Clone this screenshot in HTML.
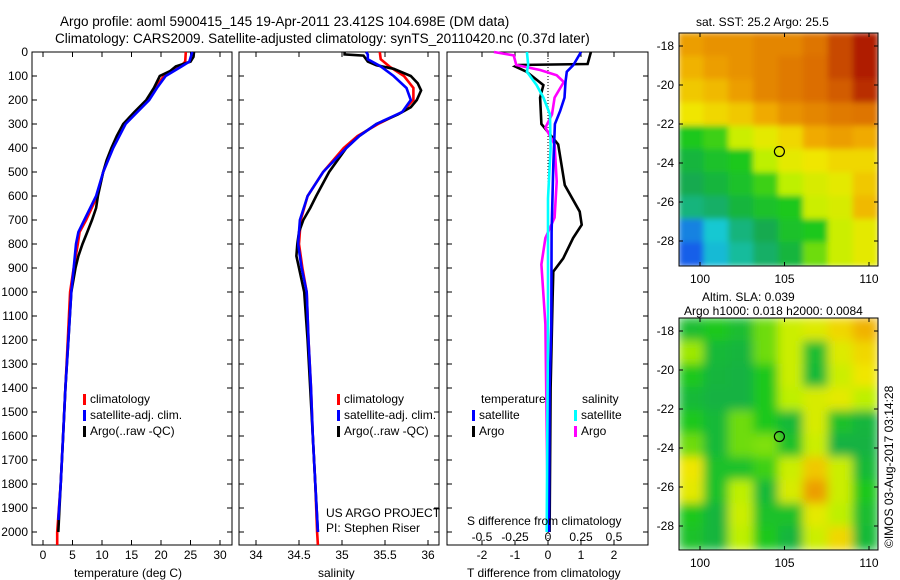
<!DOCTYPE html>
<html><head><meta charset="utf-8"><style>
body{margin:0;background:#fff}
svg{display:block;font-family:"Liberation Sans",sans-serif;font-size:12px}
</style></head><body>
<svg id="s" width="900" height="580" viewBox="0 0 900 580">
<text x="60" y="26" font-size="13.5">Argo profile: aoml 5900415_145 19-Apr-2011 23.412S 104.698E (DM data)</text>
<text x="55" y="43" font-size="13.5">Climatology: CARS2009. Satellite-adjusted climatology: synTS_20110420.nc (0.37d later)</text>
<g id="plots"></g>
<text x="74" y="577" font-size="12">temperature (deg C)</text>
<text x="318" y="577">salinity</text>
<text x="467" y="577">T difference from climatology</text>
<text x="467" y="525">S difference from climatology</text>
<text x="326" y="517">US ARGO PROJECT</text>
<text x="326" y="532">PI: Stephen Riser</text>
<text x="696" y="26">sat. SST: 25.2 Argo: 25.5</text>
<text x="702" y="301">Altim. SLA: 0.039</text>
<text x="684" y="315">Argo h1000: 0.018 h2000: 0.0084</text>
<text transform="translate(893,548) rotate(-90)">©IMOS 03-Aug-2017 03:14:28</text>
</svg>
<script>
// ---- data ----
const depthTick = [0,100,200,300,400,500,600,700,800,900,1000,1100,1200,1300,1400,1500,1600,1700,1800,1900,2000];
const tempTicks = [0,5,10,15,20,25,30];
const salTicks = [34,34.5,35,35.5,36];
const tdTicks = [-2,-1,0,1,2];
const sdTicks = [-0.5,-0.25,0,0.25,0.5];
const sdTickLabels = ["-0.5","-0.25","0","0.25","0.5"];

const tArgoD = [0,20,40,60,80,100,150,200,250,300,350,400,450,500,600,650,700,750,800,850,900,1000,1200,1400,1600,1800,2000];
const tArgoV = [25.6,25.5,25,22.5,21.5,19.8,18.8,17.5,15.5,13.6,12.5,11.6,10.8,10.2,9.3,9,8.3,7.5,6.7,6,5.5,4.8,4.3,3.8,3.4,3.0,2.6];
const tClimD = [0,40,60,100,150,200,250,300,400,500,600,700,750,800,900,1000,1200,1400,1600,1800,2000,2054];
const tClimV = [24.2,24.1,23.3,20.5,19.0,17.8,15.8,13.8,11.8,10.2,9.2,7.3,6.2,5.9,5.2,4.6,4.2,3.8,3.4,3.0,2.4,2.4];
const tSatD = [0,40,60,100,150,200,250,300,400,500,600,700,750,800,900,1000,1200,1400,1600,1800,1950];
const tSatV = [25.3,24.8,23.5,20.8,19.3,18.0,16,14,11.9,10.2,9.0,7.0,6.0,5.6,5.2,4.8,4.3,3.8,3.4,3.0,2.6];

const sArgoD = [0,10,15,40,55,70,100,130,160,200,230,260,300,350,400,500,600,650,700,750,800,850,900,1000,1200,1400,1600,1800,2000];
const sArgoV = [35.03,35.03,35.25,35.3,35.4,35.6,35.8,35.88,35.92,35.87,35.8,35.65,35.4,35.2,35.05,34.85,34.7,34.63,34.55,34.5,34.48,34.47,34.5,34.56,34.6,34.63,34.66,34.69,34.72];
const sClimD = [0,30,60,100,150,200,250,300,350,400,500,600,700,800,900,1000,1200,1400,1600,1800,2000,2054];
const sClimV = [35.44,35.45,35.55,35.72,35.83,35.83,35.7,35.42,35.18,35.02,34.78,34.6,34.52,34.5,34.54,34.59,34.61,34.64,34.66,34.69,34.71,34.72];
const sSatD = [0,10,30,60,100,150,200,250,300,350,400,500,600,700,800,900,1000,1200,1400,1600,1800,2000];
const sSatV = [35.28,35.3,35.3,35.45,35.6,35.75,35.8,35.7,35.4,35.2,35.05,34.78,34.6,34.51,34.49,34.53,34.59,34.61,34.64,34.66,34.69,34.72];

const dtSatD = [0,54,82,125,190,245,300,470,750,1140,1400,2000];
const dtSatV = [1.0,0.77,0.57,0.53,0.5,0.37,0.21,0.16,0.11,0.1,0.05,0.03];
const dtArgoD = [0,50,54,60,82,138,190,300,385,470,555,665,720,775,860,915,1025,1400,2000];
const dtArgoV = [1.3,1.2,-0.9,-1.0,-0.65,-0.14,-0.24,-0.2,0.31,0.41,0.51,0.96,1.02,0.76,0.46,0.16,0.14,0.08,0.05];
const dsSatD = [0,54,82,138,190,260,400,610,1140,2000];
const dsSatV = [-0.16,-0.15,-0.16,-0.086,-0.035,0.015,0.02,0,0,-0.01];
const dsArgoD = [0,14,54,75,97,125,190,260,315,385,540,690,775,885,1135,2000];
const dsArgoV = [-0.41,-0.26,-0.24,-0.06,0.066,0.12,0.05,0.03,-0.02,0.05,0.066,0.05,-0.02,-0.05,-0.02,0.0];

const sstGrid = [
[.78,.8,.8,.82,.82,.85,.9,.95],
[.75,.78,.8,.82,.84,.86,.9,.95],
[.72,.74,.78,.82,.84,.86,.88,.93],
[.68,.7,.72,.76,.8,.82,.84,.85],
[.5,.52,.62,.66,.7,.76,.78,.76],
[.45,.48,.5,.6,.66,.68,.7,.7],
[.42,.45,.48,.52,.6,.64,.66,.72],
[.38,.4,.45,.48,.5,.62,.64,.74],
[.2,.3,.38,.42,.48,.5,.62,.66],
[.15,.28,.35,.4,.45,.55,.62,.66]];
const slaGrid = [
[.47,.5,.47,.55,.62,.65,.7,.75],
[.58,.46,.45,.55,.62,.47,.65,.7],
[.5,.45,.44,.5,.62,.46,.62,.68],
[.46,.44,.44,.5,.6,.64,.66,.6],
[.5,.46,.55,.5,.46,.64,.48,.45],
[.55,.46,.55,.56,.48,.62,.44,.44],
[.68,.48,.48,.52,.62,.72,.62,.46],
[.66,.48,.6,.46,.64,.78,.62,.5],
[.5,.45,.62,.48,.48,.66,.6,.47],
[.48,.45,.6,.5,.45,.62,.7,.46]];
const latTicks = [-18,-20,-22,-24,-26,-28];
const lonTicks = [100,105,110];

// ---- drawing ----
const NS="http://www.w3.org/2000/svg";
const root=document.getElementById('plots');
function mk(tag,at,parent){const e=document.createElementNS(NS,tag);for(const k in at)e.setAttribute(k,at[k]);(parent||root).appendChild(e);return e;}
const TOP=52, BOT=545;
const yD=d=>TOP+d*0.24;
const xT=v=>43+5.9*v;
const xS=v=>256+86*(v-34);
const xTD=v=>548+33*v;
const xSD=v=>548+132*v;

function frame(x0,x1,name){
  const r=mk('rect',{x:x0,y:TOP,width:x1-x0,height:BOT-TOP,fill:'none',stroke:'#000','stroke-width':1});
  
  
  depthTick.forEach(d=>{
    mk('line',{x1:x0,x2:x0+5,y1:yD(d),y2:yD(d),stroke:'#000'});
    mk('line',{x1:x1,x2:x1-5,y1:yD(d),y2:yD(d),stroke:'#000'});
  });
}
function xticks(ticks,fx,labels,ly,name){
  ticks.forEach((t,i)=>{
    mk('line',{x1:fx(t),x2:fx(t),y1:TOP,y2:TOP+5,stroke:'#000'});
    mk('line',{x1:fx(t),x2:fx(t),y1:BOT,y2:BOT-5,stroke:'#000'});
    const tx=mk('text',{x:fx(t),y:ly,'text-anchor':'middle'});
    tx.textContent=labels?labels[i]:String(t);
    
    
  });
}
function line(D,V,fx,col,name){
  const p=mk('polyline',{points:D.map((d,i)=>fx(V[i]).toFixed(1)+','+yD(d).toFixed(1)).join(' '),fill:'none',stroke:col,'stroke-width':2.6,'stroke-linejoin':'miter'});
  
  
}
depthTick.forEach(d=>{
  const t=mk('text',{x:28,y:yD(d)+4,'text-anchor':'end'});t.textContent=d;
  
  
});
frame(32,232,'temperature-panel');
frame(239,439,'salinity-panel');
frame(447,648,'difference-panel');
xticks(tempTicks,xT,null,559,'temperature-tick-label');
xticks(salTicks,xS,null,559,'salinity-tick-label');
xticks(tdTicks,xTD,null,559,'t-difference-tick-label');
sdTicks.forEach((t,i)=>{const tx=mk('text',{x:xSD(t),y:541,'text-anchor':'middle'});tx.textContent=sdTickLabels[i];
  
  });
mk('line',{x1:548,x2:548,y1:TOP,y2:BOT,stroke:'#000','stroke-dasharray':'1,2'});

line(tClimD,tClimV,xT,'#f00','temperature-climatology-line');
line(tArgoD,tArgoV,xT,'#000','temperature-argo-line');
line(tSatD,tSatV,xT,'#00f','temperature-satellite-line');
line(sClimD,sClimV,xS,'#f00','salinity-climatology-line');
line(sArgoD,sArgoV,xS,'#000','salinity-argo-line');
line(sSatD,sSatV,xS,'#00f','salinity-satellite-line');
line(dtArgoD,dtArgoV,xTD,'#000','t-diff-argo-line');
line(dsArgoD,dsArgoV,xSD,'#f0f','s-diff-argo-line');
line(dtSatD,dtSatV,xTD,'#00f','t-diff-satellite-line');
line(dsSatD,dsSatV,xSD,'#0ff','s-diff-satellite-line');

function legend(x,y,col,label,name){
  mk('rect',{x:x,y:y-9,width:3,height:11,fill:col});
  const t=mk('text',{x:x+7,y:y});t.textContent=label;
  
  
}
legend(83,403,'#f00','climatology','legend-climatology');
legend(83,419,'#00f','satellite-adj. clim.','legend-satellite-adj');
legend(83,435,'#000','Argo(..raw -QC)','legend-argo');
legend(337,403,'#f00','climatology','legend-climatology-sal');
legend(337,419,'#00f','satellite-adj. clim.','legend-satellite-adj-sal');
legend(337,435,'#000','Argo(..raw -QC)','legend-argo-sal');
let t1=mk('text',{x:481,y:403});t1.textContent='temperature';


let t2=mk('text',{x:582,y:403});t2.textContent='salinity';


legend(472,419,'#00f','satellite','legend-t-satellite');
legend(472,435,'#000','Argo','legend-t-argo');
legend(574,419,'#0ff','satellite','legend-s-satellite');
legend(574,435,'#f0f','Argo','legend-s-argo');

const stops=[[0.1,[20,60,240]],[0.3,[20,200,210]],[0.42,[20,170,80]],[0.5,[30,200,30]],[0.6,[190,240,0]],[0.68,[240,230,0]],[0.76,[240,170,0]],[0.86,[220,110,0]],[0.96,[170,20,0]]];
function cmap(v){
  if(v<=stops[0][0])return 'rgb('+stops[0][1]+')';
  for(let i=1;i<stops.length;i++){if(v<=stops[i][0]){const a=stops[i-1],b=stops[i],f=(v-a[0])/(b[0]-a[0]);
    return 'rgb('+a[1].map((c,k)=>Math.round(c+(b[1][k]-c)*f)).join(',')+')';}}
  return 'rgb('+stops[stops.length-1][1]+')';
}
function map(grid,y0,y1,blur,name){
  const x0=679,x1=878;
  const g=mk('g',{});
  
  
  const clip=mk('clipPath',{id:'c'+name},g);mk('rect',{x:x0,y:y0,width:x1-x0,height:y1-y0},clip);
  const inner=mk('g',{'clip-path':'url(#c'+name+')'},g);
  const ig=mk('g',{filter:blur?'url(#bl)':'url(#bl2)'},inner);
  const rows=grid.length,cols=grid[0].length,cw=(x1-x0)/cols,ch=(y1-y0)/rows;
  grid.forEach((r,i)=>r.forEach((v,j)=>mk('rect',{x:x0+j*cw-0.5,y:y0+i*ch-0.5,width:cw+1,height:ch+1,fill:cmap(v)},ig)));
  mk('rect',{x:x0,y:y0,width:x1-x0,height:y1-y0,fill:'none',stroke:'#000'},g);
  const lat=l=>y0+13+(-18-l)*19.5;
  latTicks.forEach(l=>{const t=mk('text',{x:x0-5,y:lat(l)+4,'text-anchor':'end'},g);t.textContent=l;
    
    
    mk('line',{x1:x0,x2:x0+4,y1:lat(l),y2:lat(l),stroke:'#000'},g);mk('line',{x1:x1,x2:x1-4,y1:lat(l),y2:lat(l),stroke:'#000'},g);});
  const lon=l=>700+(l-100)*16.9;
  lonTicks.forEach(l=>{const t=mk('text',{x:lon(l),y:y1+17,'text-anchor':'middle'},g);t.textContent=l;
    
    
    mk('line',{x1:lon(l),x2:lon(l),y1:y0,y2:y0+4,stroke:'#000'},g);mk('line',{x1:lon(l),x2:lon(l),y1:y1,y2:y1-4,stroke:'#000'},g);});
  const c=mk('ellipse',{cx:lon(104.698),cy:lat(-23.412),rx:5,ry:5,fill:'none',stroke:'#000','stroke-width':1.2},g);
  
  
}
const defs=mk('defs',{});
const f=mk('filter',{id:'bl',x:'-10%',y:'-10%',width:'120%',height:'120%'},defs);mk('feGaussianBlur',{stdDeviation:5},f);
const f2=mk('filter',{id:'bl2',x:'-10%',y:'-10%',width:'120%',height:'120%'},defs);mk('feGaussianBlur',{stdDeviation:3},f2);
map(sstGrid,33,266,false,'sst-map');
map(slaGrid,318,550,true,'sla-map');
</script>
</body></html>
